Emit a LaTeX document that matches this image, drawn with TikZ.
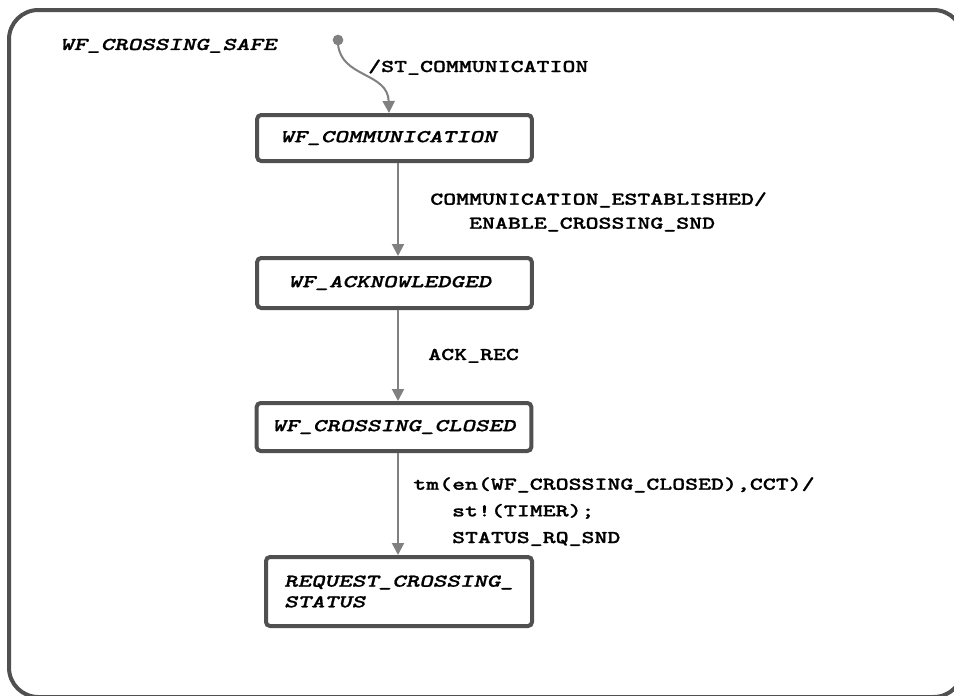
\documentclass[tikz,border=0pt]{standalone}
\usepackage{fontspec}
\newfontfamily\labelfont{lmmonolt10-bold.otf}[FakeStretch=1.37, FakeBold=1]
\newfontfamily\statefont{lmmonolt10-boldoblique.otf}[FakeStretch=1.43, FakeBold=1]
\usetikzlibrary{arrows.meta}
\definecolor{framegray}{HTML}{505050}
\definecolor{flowgray}{HTML}{808080}
\tikzset{
  statebox/.style={draw=framegray, line width=3pt, rounded corners=3pt,
    minimum width=206pt, inner sep=0pt,
    font=\statefont\fontsize{13.5}{15.5}\selectfont},
  flow/.style={draw=flowgray, line width=1.5pt,
    -{Triangle[length=9pt,width=9pt]}},
  lbl/.style={font=\labelfont\fontsize{13.5}{16}\selectfont,
    inner sep=0pt, align=left, anchor=north west}
}
\begin{document}
\begin{tikzpicture}[x=0.75pt,y=-0.75pt]
  \useasboundingbox (0,0) rectangle (954,696);
  \clip (0,0) rectangle (954,696);
  \fill[white] (0,0) rectangle (954,696);

  % enclosing superstate
  \draw[framegray, line width=3pt, rounded corners=22pt] (9,10) rectangle (963,697);
  \node[font=\statefont\fontsize{13.5}{15}\selectfont,
        anchor=base west, inner sep=0pt] (safe) at (60,50) {WF\_CROSSING\_SAFE};

  % states
  \node[statebox, minimum height=34.5pt] (comm) at (394.5,138) {WF\_COMMUNICATION\hspace*{9pt}};
  \node[statebox, minimum height=37.5pt] (ack) at (394.5,283) {WF\_ACKNOWLEDGED\hspace*{7pt}};
  \node[statebox, minimum height=36pt] (closed) at (394,427) {WF\_CROSSING\_CLOSED};
  \node[statebox, minimum width=199.5pt, minimum height=51.75pt, align=left] (req) at (399,591.5)
    {REQUEST\_CROSSING\_\\STATUS};

  % initial pseudostate
  \fill[flowgray] (338,40) circle (4pt);
  \coordinate (init) at (338,44);
  \draw[flow] (init) .. controls (341,78) and (388,72) .. (comm.north -| 389,0);

  % transitions
  \coordinate (xa) at (398,0);
  \draw[flow] (comm.south -| xa) -- (ack.north -| xa);
  \draw[flow] (ack.south -| xa) -- (closed.north -| xa);
  \draw[flow] (closed.south -| xa) -- (req.north -| xa);

  % transition labels
  \node[lbl, anchor=base west] (t0) at (368,72) {/ST\_COMMUNICATION};
  \node[lbl, font=\labelfont\fontsize{13.5}{18}\selectfont] (t1) at (430,192)
    {COMMUNICATION\_ESTABLISHED/\\\phantom{AAA}ENABLE\_CROSSING\_SND};
  \node[lbl, anchor=base west] (t2) at (428,360) {ACK\_REC};
  \node[lbl, font=\labelfont\fontsize{13.5}{20}\selectfont] (t3) at (413,477)
    {tm(en(WF\_CROSSING\_CLOSED),CCT)/\\\phantom{AAA}st!(TIMER);\\\phantom{AAA}STATUS\_RQ\_SND};
\end{tikzpicture}
\end{document}
